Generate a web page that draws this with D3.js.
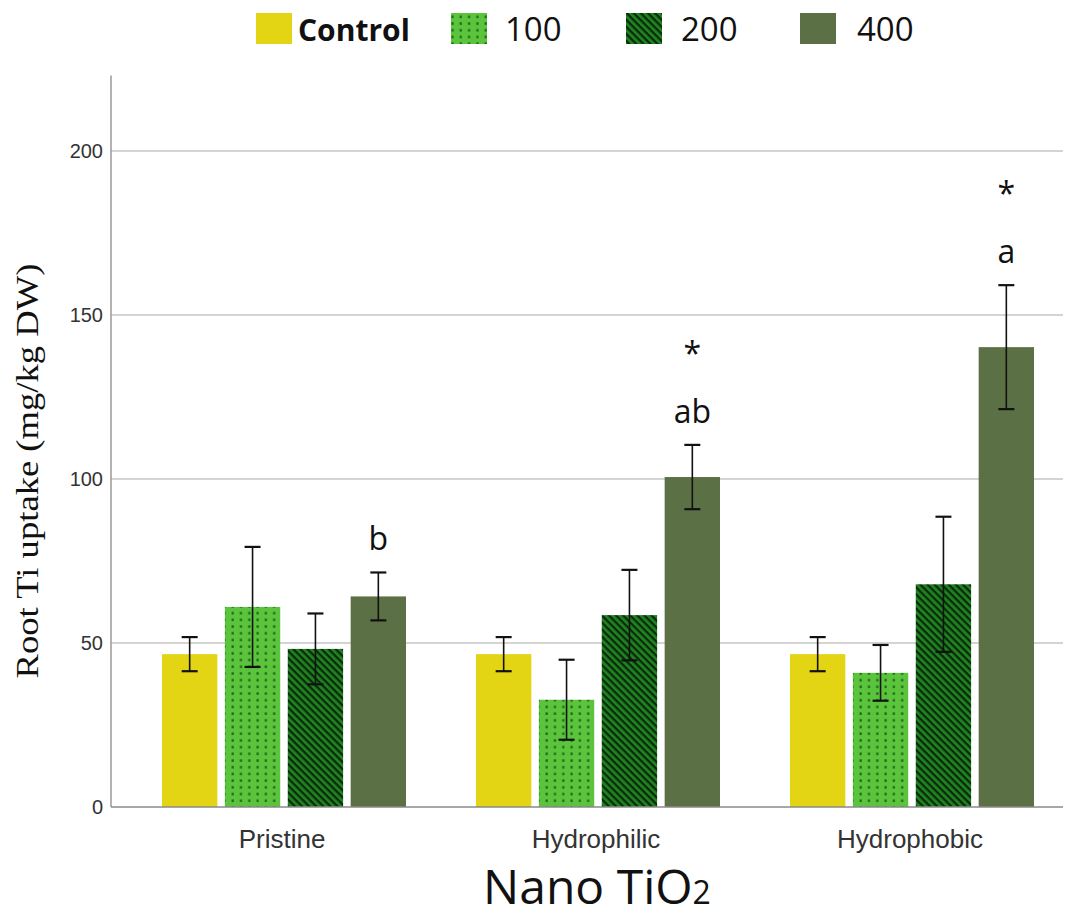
<!DOCTYPE html>
<html>
<head>
<meta charset="utf-8">
<script src="https://cdn.jsdelivr.net/npm/d3@7"></script>
<style>
  html, body { margin: 0; padding: 0; background: #fff; }
  svg { display: block; }
</style>
</head>
<body>
<svg id="chart" width="1075" height="917"></svg>
<script>
// Root titanium uptake by nano-TiO2 type and dose
const groups = ["Pristine", "Hydrophilic", "Hydrophobic"];
const doses = ["Control", "100", "200", "400"];
const means = [
  [46.6, 61.0, 48.2, 64.2],   // Pristine
  [46.6, 32.7, 58.5, 100.6],  // Hydrophilic
  [46.6, 40.9, 67.9, 140.2]   // Hydrophobic
];
const errors = [
  [5.2, 18.3, 10.8, 7.3],
  [5.2, 12.2, 13.8, 9.8],
  [5.2, 8.5, 20.6, 18.9]
];
const letters = ["b", "ab", "a"];       // labels above the 400 bars
const stars = ["", "*", "*"];
const yTicks = [0, 50, 100, 150, 200];

const fills = {
  "Control": "#e3d414",
  "100": "url(#dots)",
  "200": "url(#stripes)",
  "400": "#5c7045"
};

const svg = d3.select("#chart");
const defs = svg.append("defs");

// dotted pattern for the 100 dose
const dots = defs.append("pattern").attr("id", "dots")
  .attr("patternUnits", "userSpaceOnUse").attr("width", 8.3).attr("height", 6.7);
dots.append("rect").attr("width", 8.3).attr("height", 6.7).attr("fill", "#5cc43c");
dots.append("rect").attr("x", 3.2).attr("y", 2.2).attr("width", 2.2).attr("height", 2.5).attr("fill", "#1a681a");

// diagonal stripes for the 200 dose
const stripes = defs.append("pattern").attr("id", "stripes")
  .attr("patternUnits", "userSpaceOnUse").attr("width", 5).attr("height", 5)
  .attr("patternTransform", "rotate(45)");
stripes.append("rect").attr("width", 5).attr("height", 5).attr("fill", "#1f8522");
stripes.append("rect").attr("x", 0).attr("y", 0).attr("width", 5).attr("height", 2.3).attr("fill", "#0b2a0a");

const axisLeftX = 111;
const plotRight = 1063;
const y = d3.scaleLinear().domain([0, 200]).range([807, 151]);
const yTop = y(223);

const x0 = d3.scaleBand().domain(groups).range([127, 1069]).paddingInner(0).paddingOuter(0);
const x1 = d3.scaleBand().domain(doses).range([0, 244]).paddingInner(0.12).paddingOuter(0);
const groupOffset = (x0.bandwidth() - 244) / 2;

// gridlines
svg.append("g")
  .selectAll("line").data(yTicks.filter(d => d > 0)).join("line")
  .attr("x1", axisLeftX).attr("x2", plotRight)
  .attr("y1", d => y(d)).attr("y2", d => y(d))
  .attr("stroke", "#c6c6c6").attr("stroke-width", 1.5);

// y axis
const yAxis = svg.append("g")
  .attr("transform", `translate(${axisLeftX},0)`)
  .call(d3.axisLeft(y).tickValues(yTicks).tickSize(0).tickPadding(8));
yAxis.select(".domain").remove();
yAxis.selectAll("text")
  .attr("font-family", "Liberation Sans, Arial, sans-serif")
  .attr("font-size", 20).attr("fill", "#333");
svg.append("line")
  .attr("x1", axisLeftX).attr("x2", axisLeftX).attr("y1", yTop).attr("y2", y(0))
  .attr("stroke", "#9a9a9a").attr("stroke-width", 1.5);

// bars
const gGroups = svg.append("g").selectAll("g").data(groups).join("g")
  .attr("transform", d => `translate(${x0(d) + groupOffset},0)`);

const cells = (g, gi) => doses.map((d, di) => ({ dose: d, v: means[gi][di], e: errors[gi][di] }));

gGroups.selectAll("rect").data(cells)
  .join("rect")
  .attr("x", d => x1(d.dose))
  .attr("width", x1.bandwidth())
  .attr("y", d => y(d.v))
  .attr("height", d => y(0) - y(d.v))
  .attr("fill", d => fills[d.dose]);

// error bars
const eb = gGroups.selectAll("g.err").data(cells)
  .join("g").attr("class", "err")
  .attr("transform", d => `translate(${x1(d.dose) + x1.bandwidth() / 2},0)`);
eb.append("line").attr("y1", d => y(d.v + d.e)).attr("y2", d => y(d.v - d.e))
  .attr("stroke", "#111").attr("stroke-width", 1.6);
eb.append("line").attr("x1", -8).attr("x2", 8).attr("y1", d => y(d.v + d.e)).attr("y2", d => y(d.v + d.e))
  .attr("stroke", "#111").attr("stroke-width", 2.2);
eb.append("line").attr("x1", -8).attr("x2", 8).attr("y1", d => y(d.v - d.e)).attr("y2", d => y(d.v - d.e))
  .attr("stroke", "#111").attr("stroke-width", 2.2);

// x baseline
svg.append("line")
  .attr("x1", axisLeftX).attr("x2", plotRight).attr("y1", y(0)).attr("y2", y(0))
  .attr("stroke", "#8a8a8a").attr("stroke-width", 1.5);

// significance letters over the 400 bars
groups.forEach((g, gi) => {
  const cx = x0(g) + groupOffset + x1("400") + x1.bandwidth() / 2;
  const top = y(means[gi][3] + errors[gi][3]);
  svg.append("text").attr("x", cx).attr("y", top - 22)
    .attr("text-anchor", "middle")
    .attr("font-family", "Open Sans, sans-serif").attr("font-size", 32).attr("fill", "#111")
    .text(letters[gi]);
  if (stars[gi]) {
    svg.append("text").attr("x", cx).attr("y", top - 80)
      .attr("text-anchor", "middle")
      .attr("font-family", "Open Sans, sans-serif").attr("font-size", 32).attr("fill", "#111")
      .text(stars[gi]);
  }
});

// category labels
svg.append("g").selectAll("text").data(groups).join("text")
  .attr("x", d => x0(d) + x0.bandwidth() / 2 - 2)
  .attr("y", 848)
  .attr("text-anchor", "middle")
  .attr("font-family", "Liberation Sans, Arial, sans-serif")
  .attr("font-size", 26).attr("fill", "#333")
  .text(d => d);

// axis titles
svg.append("text")
  .attr("transform", "translate(38,471) rotate(-90)")
  .attr("text-anchor", "middle")
  .attr("font-family", "Liberation Serif, Times New Roman, serif")
  .attr("font-size", 31).attr("fill", "#111")
  .attr("textLength", 415).attr("lengthAdjust", "spacingAndGlyphs")
  .text("Root Ti uptake (mg/kg DW)");

const xt = svg.append("text")
  .attr("x", 597).attr("y", 904)
  .attr("text-anchor", "middle")
  .attr("font-family", "Open Sans, sans-serif")
  .attr("font-size", 48).attr("fill", "#111");
xt.append("tspan").text("Nano TiO");
xt.append("tspan").attr("font-size", 32).text("2");

// legend
const legendItems = [
  { key: "Control", sx: 256, tx: 298, bold: true },
  { key: "100", sx: 451, tx: 505, bold: false },
  { key: "200", sx: 626, tx: 681, bold: false },
  { key: "400", sx: 800, tx: 857, bold: false }
];
const lg = svg.append("g").selectAll("g").data(legendItems).join("g");
lg.append("rect").attr("x", d => d.sx).attr("y", 13).attr("width", 36).attr("height", 31)
  .attr("fill", d => fills[d.key]);
lg.append("text").attr("x", d => d.tx).attr("y", 41)
  .attr("font-family", "Open Sans, sans-serif")
  .attr("font-size", d => d.bold ? 30 : 33)
  .attr("font-weight", d => d.bold ? "bold" : "normal")
  .attr("fill", "#111")
  .text(d => d.key);
</script>
</body>
</html>
